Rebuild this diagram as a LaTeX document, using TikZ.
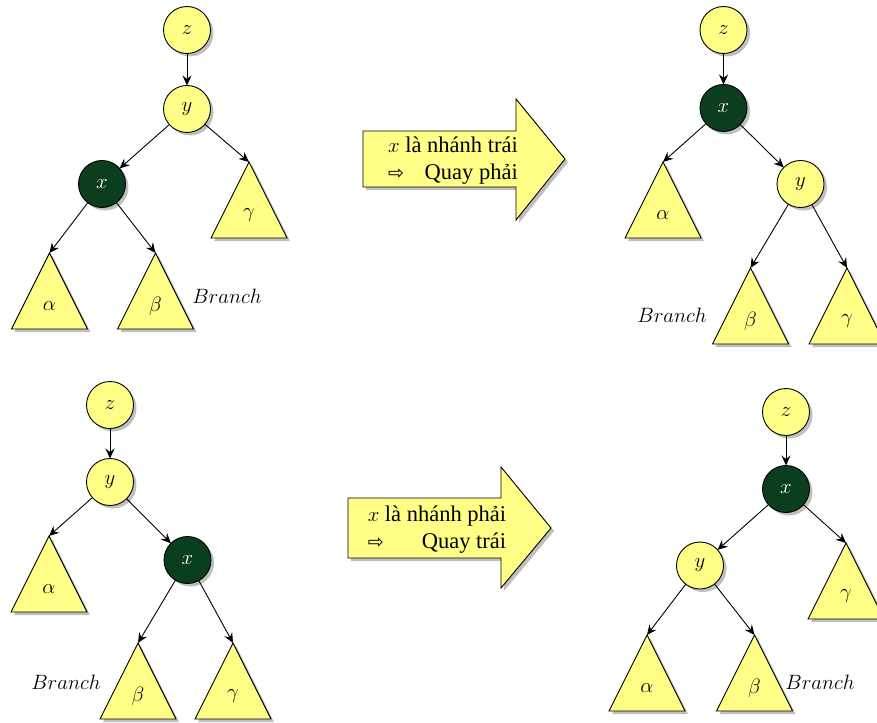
\documentclass[tikz,border=0pt]{standalone}
\usepackage{fontspec}
\setmainfont{Liberation Serif}
\newfontfamily\symfont{DejaVu Sans}
\usetikzlibrary{shapes.geometric,shadows,arrows.meta}

\definecolor{nodeyellow}{HTML}{FFFF88}
\definecolor{nodegreen}{HTML}{0B3D1F}

\tikzset{
  shade3/.style={drop shadow={shadow xshift=3pt,shadow yshift=-3pt,fill=black,opacity=0.25}},
  keynode/.style={circle,draw=black,line width=0.9pt,fill=nodeyellow,minimum size=47pt,
    inner sep=0pt,outer sep=0pt,shade3,font=\fontsize{22}{24}\selectfont},
  pivot/.style={keynode,fill=nodegreen,text=white},
  subtree/.style={isosceles triangle,shape border rotate=90,isosceles triangle stretches,
    minimum width=76pt,minimum height=76pt,inner sep=0pt,outer sep=0pt,
    draw=black,line width=0.9pt,fill=nodeyellow,shade3,anchor=apex},
  treelabel/.style={font=\fontsize{22}{24}\selectfont,inner sep=0pt},
  branchlabel/.style={font=\fontsize{20.5}{22}\selectfont,inner sep=0pt},
  link/.style={-{Stealth[length=10pt,width=9pt,inset=3.5pt]},line width=0.9pt},
  rotarrow/.style={draw=black,line width=0.9pt,fill=nodeyellow,shade3},
  rottext/.style={font=\fontsize{22.5}{27}\selectfont,inner sep=0pt}
}

\begin{document}
\begin{tikzpicture}[x=1pt,y=-1pt]
\useasboundingbox (0,0) rectangle (877,722);

% ---------- top left: x is the left child ----------
\node[keynode] (tlz) at (187,30) {$z$};
\node[keynode] (tly) at (187,109) {$y$};
\node[pivot]   (tlx) at (102,184) {$x$};
\node[subtree] (tla) at (49.5,253) {};
\node[subtree] (tlb) at (155.5,253) {};
\node[subtree] (tlg) at (249,162) {};
\node[treelabel] at ([yshift=-53pt]tla.apex) {$\alpha$};
\node[treelabel] at ([yshift=-53pt]tlb.apex) {$\beta$};
\node[treelabel] at ([yshift=-53pt]tlg.apex) {$\gamma$};
\node[branchlabel] (tlbr) at (227,296) {$Branch$};
\draw[link] (tlz) -- (tly);
\draw[link] (tly) -- (tlx);
\draw[link] (tly) -- (tlg.apex);
\draw[link] (tlx) -- (tla.apex);
\draw[link] (tlx) -- (tlb.apex);

% ---------- top rotation arrow ----------
\path[rotarrow] (363,131) -- (516,131) -- (516,99) -- (565,159) -- (516,220)
  -- (516,187) -- (363,187) -- cycle;
\node[rottext] (toptext) at (453,161)
  {\begin{tabular}{@{}c@{}}$x$ là nhánh trái\\ {\symfont\fontsize{19}{19}\selectfont ⇨}\hfill Quay phải\end{tabular}};

% ---------- top right: after right rotation ----------
\node[keynode] (trz) at (723.5,30) {$z$};
\node[pivot]   (trx) at (723.5,108) {$x$};
\node[keynode] (try) at (800.5,184) {$y$};
\node[subtree] (tra) at (663,162) {};
\node[subtree] (trb) at (750.5,268) {};
\node[subtree] (trg) at (847,268) {};
\node[treelabel] at ([yshift=-53pt]tra.apex) {$\alpha$};
\node[treelabel] at ([yshift=-53pt]trb.apex) {$\beta$};
\node[treelabel] at ([yshift=-53pt]trg.apex) {$\gamma$};
\node[branchlabel] (trbr) at (672,315) {$Branch$};
\draw[link] (trz) -- (trx);
\draw[link] (trx) -- (tra.apex);
\draw[link] (trx) -- (try);
\draw[link] (try) -- (trb.apex);
\draw[link] (try) -- (trg.apex);

% ---------- bottom left: x is the right child ----------
\node[keynode] (blz) at (110,405) {$z$};
\node[keynode] (bly) at (110,482) {$y$};
\node[pivot]   (blx) at (187.5,560) {$x$};
\node[subtree] (bla) at (49,536) {};
\node[subtree] (blb) at (138,643) {};
\node[subtree] (blg) at (233,643) {};
\node[treelabel] at ([yshift=-53pt]bla.apex) {$\alpha$};
\node[treelabel] at ([yshift=-53pt]blb.apex) {$\beta$};
\node[treelabel] at ([yshift=-53pt]blg.apex) {$\gamma$};
\node[branchlabel] (blbr) at (66,682) {$Branch$};
\draw[link] (blz) -- (bly);
\draw[link] (bly) -- (bla.apex);
\draw[link] (bly) -- (blx);
\draw[link] (blx) -- (blb.apex);
\draw[link] (blx) -- (blg.apex);

% ---------- bottom rotation arrow ----------
\path[rotarrow] (348,498) -- (501,498) -- (501,467) -- (551,528) -- (501,588)
  -- (501,558) -- (348,558) -- cycle;
\node[rottext] (bottext) at (437,530)
  {\begin{tabular}{@{}c@{}}$x$ là nhánh phải\\ {\symfont\fontsize{19}{19}\selectfont ⇨}\hfill Quay trái\end{tabular}};

% ---------- bottom right: after left rotation ----------
\node[keynode] (brz) at (786,412) {$z$};
\node[pivot]   (brx) at (786,489) {$x$};
\node[keynode] (bry) at (700,565.5) {$y$};
\node[subtree] (bra) at (647,635) {};
\node[subtree] (brb) at (754.5,635) {};
\node[subtree] (brg) at (846,543) {};
\node[treelabel] at ([yshift=-53pt]bra.apex) {$\alpha$};
\node[treelabel] at ([yshift=-53pt]brb.apex) {$\beta$};
\node[treelabel] at ([yshift=-53pt]brg.apex) {$\gamma$};
\node[branchlabel] (brbr) at (820,682) {$Branch$};
\draw[link] (brz) -- (brx);
\draw[link] (brx) -- (bry);
\draw[link] (brx) -- (brg.apex);
\draw[link] (bry) -- (bra.apex);
\draw[link] (bry) -- (brb.apex);
\end{tikzpicture}
\end{document}
